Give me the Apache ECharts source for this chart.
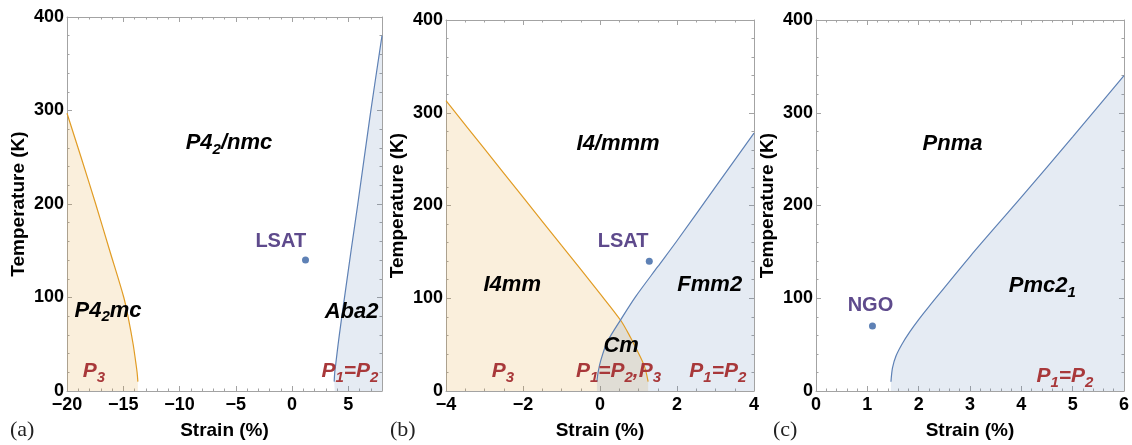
<!DOCTYPE html>
<html><head><meta charset="utf-8">
<script src="https://cdn.jsdelivr.net/npm/echarts@6/dist/echarts.min.js"></script>
<style>html,body{margin:0;padding:0;background:#fff}#c{width:1132px;height:445px}</style>
</head><body><div id="c"></div>
<script>
// ---------- data ----------
// Panel (a)
const aOrange = [[-20,297],[-18.75,250],[-17.45,200],[-16.2,150],[-14.95,100],[-14.5,75],[-14.12,50],[-13.88,30],[-13.77,20],[-13.7,10]];
const aBlue = [[3.75,10],[3.8,20],[3.9,30],[4.1,50],[4.32,70],[4.55,90],[5.25,150],[5.85,200],[6.95,295],[8,380]];
const aPoint = [[1.2,140]];
const aLabels = [
  [-5.6,265,'{k|P4}{ks|2}{k|/nmc}'],
  [-16.35,86,'{k|P4}{ks|2}{k|mc}'],
  [5.3,85,'{k|Aba2}'],
  [-1.0,160,'{p|LSAT}'],
  [-17.6,21,'{r|P}{rs|3}'],
  [5.15,21,'{r|P}{rs|1}{r|=P}{rs|2}']
];
// Panel (b)
const bOrange = [[-4,313],[-3,261],[-2,209],[-1,157],[0,105],[0.54,76],[0.79,58],[1.01,40],[1.16,26],[1.25,10]];
const bBlue = [[-0.08,10],[-0.05,20],[0.02,33],[0.19,53],[0.54,77],[0.93,102],[1.5,134],[2,162],[3,220],[4,278]];
const bPoint = [[1.28,140]];
const bLabels = [
  [0.47,266,'{k|I4/mmm}'],
  [-2.28,114,'{k|I4mm}'],
  [2.85,114,'{k|Fmm2}'],
  [0.55,49,'{k|Cm}'],
  [0.6,161,'{p|LSAT}'],
  [-2.52,21,'{r|P}{rs|3}'],
  [0.48,21,'{r|P}{rs|1}{r|=P}{rs|2}{r|,P}{rs|3}'],
  [3.06,21,'{r|P}{rs|1}{r|=P}{rs|2}']
];
// Panel (c)
const cBlue = [[1.46,10],[1.49,25],[1.56,38],[1.68,51],[1.83,64],[2.0,77],[2.2,91],[3,145],[4,209],[5,274],[6,340]];
const cPoint = [[1.1,70]];
const cLabels = [
  [2.66,266,'{k|Pnma}'],
  [4.41,113,'{k|Pmc2}{ks|1}'],
  [1.06,92,'{p|NGO}'],
  [4.85,16,'{r|P}{rs|1}{r|=P}{rs|2}']
];
// axes
const xRanges = [[-20,8,5,5],[-4,4,2,4],[0,6,1,5]]; // min,max,interval,minor split
const yRange = [0,400,100,5];
const panelTags = ['(a)','(b)','(c)'];

// ---------- styles ----------
const ORANGE = '#E19C24', BLUE = '#5E81B5', FRAME = '#a3a3a3';
const FONT = 'Liberation Sans';
const grids = [
  {left:67, top:17, width:315, height:376},
  {left:446, top:20, width:308, height:373},
  {left:816, top:20, width:308, height:373}
];
const minus = v => String(v).replace('-', '\u2212');
const base = {fontFamily:FONT,fontWeight:'bold',fontStyle:'italic'};
const rich = {
  k:Object.assign({fontSize:22,color:'#000'},base),
  ks:Object.assign({fontSize:15,color:'#000',verticalAlign:'bottom',padding:[13,0,0,0]},base),
  r:Object.assign({fontSize:21,color:'#A8383A'},base),
  rs:Object.assign({fontSize:15,color:'#A8383A',verticalAlign:'bottom',padding:[13,0,0,0]},base),
  p:{fontFamily:FONT,fontWeight:'bold',fontSize:20,color:'#5E4A8C'}
};
const nameStyle = {fontFamily:FONT,fontWeight:'bold',fontSize:19,color:'#000'};

const xAxis = [], yAxis = [];
function axisCommon(show, minor){
  return {
    axisLine:{show:true,onZero:false,lineStyle:{color:FRAME,width:1}},
    axisTick:{show:true,inside:true,length:5,lineStyle:{color:FRAME}},
    minorTick:{show:true,splitNumber:minor,length:2.5,lineStyle:{color:FRAME}},
    splitLine:{show:false},
    axisLabel:{show:show,fontFamily:FONT,fontWeight:'bold',fontSize:18,color:'#000',formatter:minus}
  };
}
xRanges.forEach((r,i)=>{
  const b = Object.assign(axisCommon(true,r[3]),{type:'value',gridIndex:i,position:'bottom',min:r[0],max:r[1],interval:r[2],
    name:'Strain (%)',nameLocation:'middle',nameGap:30,nameTextStyle:nameStyle});
  b.axisLabel.margin = 5;
  if (i===0) b.axisLabel.showMaxLabel = false;
  const t = Object.assign(axisCommon(false,r[3]),{type:'value',gridIndex:i,position:'top',min:r[0],max:r[1],interval:r[2]});
  xAxis.push(b,t);
  const l = Object.assign(axisCommon(true,yRange[3]),{type:'value',gridIndex:i,position:'left',min:yRange[0],max:yRange[1],interval:yRange[2],
    name:'Temperature (K)',nameLocation:'middle',nameGap:39,nameTextStyle:nameStyle});
  l.axisLabel.margin = 3;
  const rr = Object.assign(axisCommon(false,yRange[3]),{type:'value',gridIndex:i,position:'right',min:yRange[0],max:yRange[1],interval:yRange[2]});
  yAxis.push(l,rr);
});

const series = [];
function region(i, pts, color){
  // boundary line; the phase region is the area below it down to T = 0
  series.push({type:'line',xAxisIndex:2*i,yAxisIndex:2*i,data:pts,showSymbol:false,silent:true,smooth:0.3,
    lineStyle:{color:color,width:1.2},areaStyle:{color:color,opacity:0.16,origin:'start'},z:2});
}
function points(i, pts){
  series.push({type:'scatter',xAxisIndex:2*i,yAxisIndex:2*i,data:pts,symbolSize:7,silent:true,
    itemStyle:{color:BLUE,opacity:1},z:4});
}
function labels(i, arr){
  series.push({type:'scatter',xAxisIndex:2*i,yAxisIndex:2*i,data:arr,symbolSize:1,silent:true,
    itemStyle:{color:'rgba(0,0,0,0)',opacity:1},z:5,
    label:{show:true,position:'inside',opacity:1,formatter:p=>p.data[2],rich:rich}});
}
region(0,aOrange,ORANGE); region(0,aBlue,BLUE); points(0,aPoint); labels(0,aLabels);
region(1,bOrange,ORANGE); region(1,bBlue,BLUE); points(1,bPoint); labels(1,bLabels);
region(2,cBlue,BLUE); points(2,cPoint); labels(2,cLabels);

const tagX = [25,405,788];
const graphic = panelTags.map((t,i)=>({type:'text',left:tagX[i]-15,top:419,
  style:{text:t,fontFamily:'Liberation Serif',fontSize:22,fill:'#222'}}));

const chart = echarts.init(document.getElementById('c'));
chart.setOption({animation:false,backgroundColor:'#fff',grid:grids,xAxis:xAxis,yAxis:yAxis,series:series,graphic:graphic});
</script></body></html>
